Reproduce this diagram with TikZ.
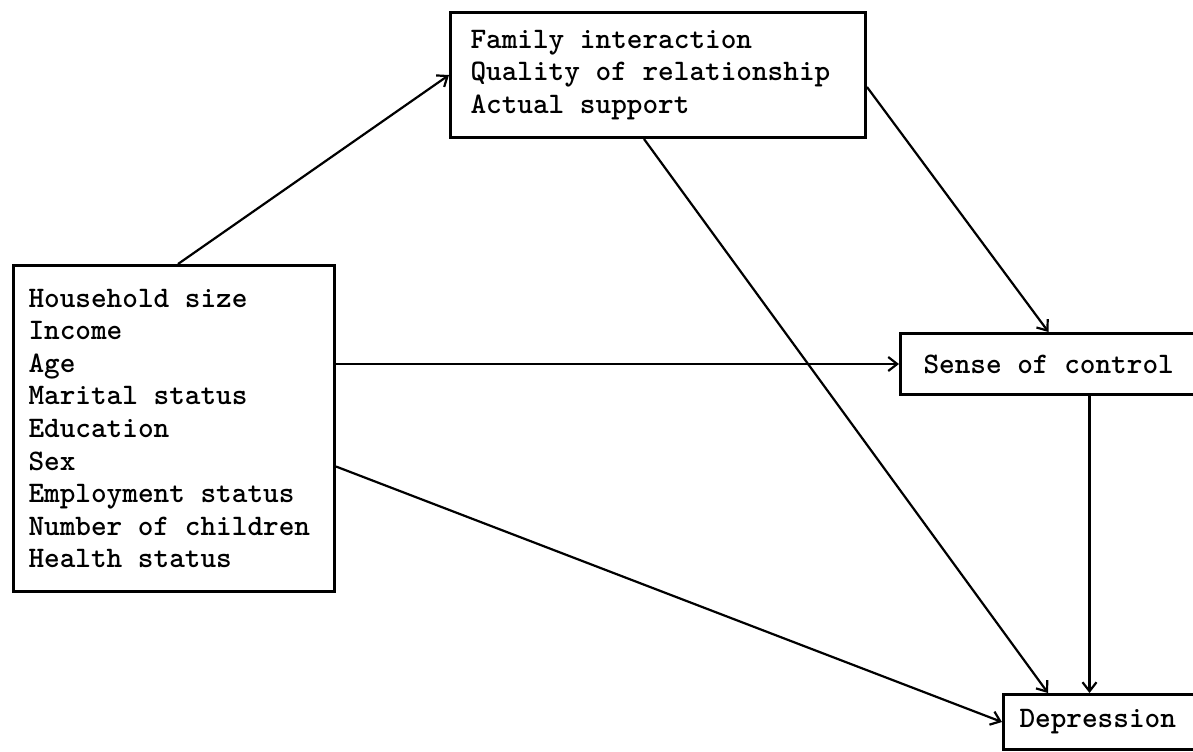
\documentclass[tikz,border=0pt]{standalone}
\usepackage{fontspec}
\usepackage{tikz}
\usetikzlibrary{arrows.meta}

\begin{document}
\begin{tikzpicture}[x=0.5pt,y=-0.5pt]%
\tikzstyle{varbox} = [draw=black, line width=1.5pt, rectangle, anchor=north west,
    align=left, font=\ttfamily\bfseries\fontsize{14.9}{16.3}\selectfont,
    execute at begin node={\spaceskip=0.525em\xspaceskip=0.525em\relax}]
\tikzstyle{path} = [draw=black, line width=1.1pt, -{Straight Barb[length=4.5pt,width=7pt]}]

\useasboundingbox (0,0) rectangle (1193,751);
\clip (0,0) rectangle (1193,751);

\node [varbox, text width=145.5pt, inner xsep=7.5pt, minimum height=163pt] (hh) at (12,264) {%
    Household size\\
    Income\\
    Age\\
    Marital status\\
    Education\\
    Sex\\
    Employment status\\
    Number of children\\
    Health status};
\node [varbox, text width=187.5pt, inner xsep=10pt, minimum height=62.5pt] (fam) at (449,11) {%
    Family interaction\\
    Quality of relationship\\
    Actual support};
\node [varbox, text width=166pt, inner xsep=11.5pt, minimum height=30.5pt] (sc) at (899,332) {Sense of control};
\node [varbox, text width=104pt, inner xsep=8pt, minimum height=27.5pt] (dep) at (1002,693) {Depression};

\draw [path] ([xshift=2pt]hh.north) -- (fam.west);
\draw [path] ([yshift=-6pt]fam.east) -- ([xshift=-20.5pt]sc.north);
\draw [path] ([xshift=-7pt]fam.south) -- ([xshift=23pt]dep.north west);
\draw [path] (sc.west -| hh.east) -- (sc.west);
\draw [path] ([yshift=-19pt]hh.east) -- (dep.west);
\draw [path] (sc.south) -- (sc.south |- dep.north);
\end{tikzpicture}
\end{document}
